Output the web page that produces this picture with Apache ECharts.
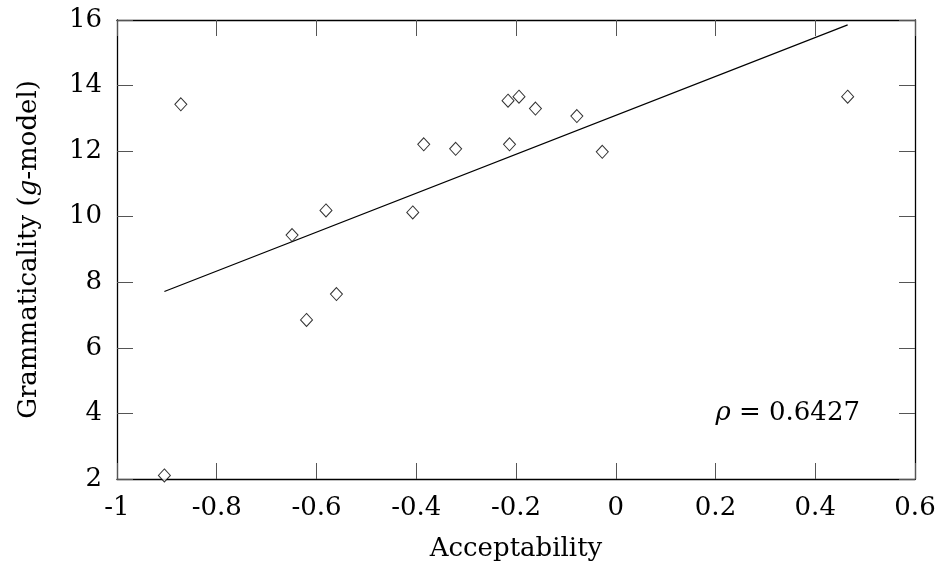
<!DOCTYPE html>
<html>
<head>
<meta charset="utf-8">
<script src="https://cdn.jsdelivr.net/npm/echarts@6/dist/echarts.min.js"></script>
<style>html,body{margin:0;padding:0;background:#fff;}#c{width:943px;height:571px;}</style>
</head>
<body>
<div id="c"></div>
<script>
const acceptability = [-0.905, -0.872, -0.649, -0.620, -0.581, -0.560, -0.407, -0.385, -0.321, -0.216, -0.213, -0.194, -0.161, -0.078, -0.027, 0.465];
const grammaticality = [2.11, 13.43, 9.44, 6.85, 10.19, 7.64, 10.13, 12.21, 12.07, 13.54, 12.21, 13.66, 13.30, 13.07, 11.98, 13.66];
const fitX = [-0.905, 0.465];
const fitY = [7.72, 15.85];
const rhoText = '0.6427';

const FONT = 'DejaVu Serif';
const FS = 26;
const chart = echarts.init(document.getElementById('c'), null, {renderer: 'canvas'});

const xBase = {min: -1, max: 0.6, interval: 0.2, splitLine: {show: false}};
const yBase = {min: 2, max: 16, interval: 2, splitLine: {show: false}};
const tickStyle = {show: true, inside: true, length: 16, lineStyle: {color: '#555', width: 1}};
const lineStyle = {show: true, onZero: false, lineStyle: {color: '#000', width: 1.3}};

chart.setOption({
  animation: false,
  backgroundColor: '#fff',
  grid: {left: 117, right: 28, top: 20, bottom: 92, containLabel: false},
  xAxis: [
    Object.assign({}, xBase, {
      type: 'value', position: 'bottom',
      name: 'Acceptability', nameLocation: 'middle', nameGap: 57,
      nameTextStyle: {fontFamily: FONT, fontSize: FS, color: '#000'},
      axisLine: lineStyle, axisTick: tickStyle,
      axisLabel: {show: true, margin: 16, fontFamily: FONT, fontSize: FS, color: '#000',
        showMinLabel: true, showMaxLabel: true,
        formatter: v => (Math.abs(v) < 1e-9 ? '0' : String(+v.toFixed(1)))}
    }),
    Object.assign({}, xBase, {
      type: 'value', position: 'top',
      axisLine: lineStyle, axisTick: tickStyle, axisLabel: {show: false}
    })
  ],
  yAxis: [
    Object.assign({}, yBase, {
      type: 'value', position: 'left',
      name: 'Grammaticality ({i|g}-model)', nameLocation: 'middle', nameGap: 75,
      nameTextStyle: {fontFamily: FONT, fontSize: FS, color: '#000',
        rich: {i: {fontFamily: FONT, fontSize: FS, fontStyle: 'italic', color: '#000'}}},
      axisLine: lineStyle, axisTick: tickStyle,
      axisLabel: {show: true, margin: 15, fontFamily: FONT, fontSize: FS, color: '#000',
        showMinLabel: true, showMaxLabel: true}
    }),
    Object.assign({}, yBase, {
      type: 'value', position: 'right',
      axisLine: lineStyle, axisTick: tickStyle, axisLabel: {show: false}
    })
  ],
  series: [
    {
      type: 'scatter', xAxisIndex: 0, yAxisIndex: 0,
      symbol: 'diamond', symbolSize: [12, 13],
      itemStyle: {color: '#fff', borderColor: '#000', borderWidth: 1},
      data: acceptability.map((x, i) => [x, grammaticality[i]]),
      z: 3
    },
    {
      type: 'line', xAxisIndex: 0, yAxisIndex: 0,
      showSymbol: false, symbol: 'none',
      lineStyle: {color: '#000', width: 1.2},
      data: fitX.map((x, i) => [x, fitY[i]]),
      z: 2
    }
  ],
  graphic: [{
    type: 'text', right: 83, top: 400,
    style: {
      text: '{i|ρ} = ' + rhoText,
      fontFamily: FONT, fontSize: FS, fill: '#000',
      rich: {i: {fontFamily: FONT, fontSize: FS, fontStyle: 'italic', fill: '#000'}}
    }
  }]
});
</script>
</body>
</html>
